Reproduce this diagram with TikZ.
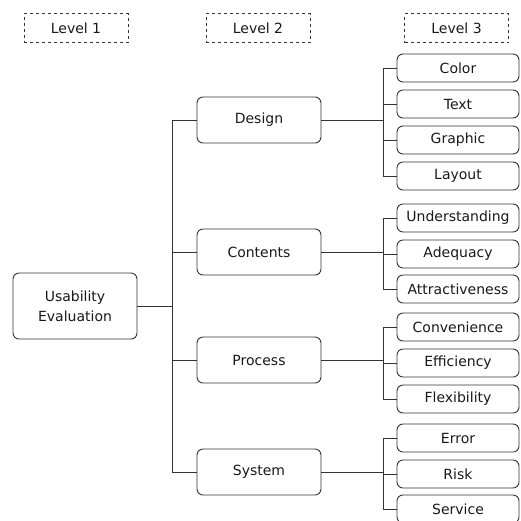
\documentclass[tikz,border=0pt]{standalone}
\usepackage{fontspec}
\setmainfont{DejaVu Sans}
\usetikzlibrary{positioning}

\begin{document}
\begin{tikzpicture}[
        x=1pt, y=-1pt,
        every node/.style={draw=black!80, line width=0.9pt, rounded corners=6pt, inner sep=0pt, align=center, text=black!90, font=\fontsize{14}{20}\selectfont},
        head/.style={rounded corners=0pt, dashed, line width=0.6pt, minimum width=104pt, minimum height=29pt},
        top/.style={minimum width=124pt, minimum height=66pt},
        mid/.style={minimum width=124pt, minimum height=46pt},
        leaf/.style={minimum width=122pt, minimum height=28pt},
        link/.style={draw=black!80, line width=0.8pt}
    ]
 \useasboundingbox (0,0) rectangle (521,520);
 \node[head] (h1) at (76,28)    {Level 1};
 \node[head] (h2) at (258,28)   {Level 2};
 \node[head] (h3) at (456.5,28) {Level 3};

 \node[top] (eval) at (75,306) {Usability\\Evaluation};

 \node[mid] (design)   at (259,120) {Design};
 \node[mid] (contents) at (259,252) {Contents};
 \node[mid] (process)  at (259,360) {Process};
 \node[mid] (system)   at (259,472) {System};

 \node[leaf] (color)   at (458,68)  {Color};
 \node[leaf] (text)    at (458,104) {Text};
 \node[leaf] (graphic) at (458,140) {Graphic};
 \node[leaf] (layout)  at (458,176) {Layout};

 \node[leaf] (underst) at (458,218) {Understanding};
 \node[leaf] (adequ)   at (458,254) {Adequacy};
 \node[leaf] (attract) at (458,289) {Attractiveness};

 \node[leaf] (conven)  at (458,327) {Convenience};
 \node[leaf] (effic)   at (458,363) {Efficiency};
 \node[leaf] (flexib)  at (458,399) {Flexibility};

 \node[leaf] (error)   at (458,438) {Error};
 \node[leaf] (risk)    at (458,474) {Risk};
 \node[leaf] (service) at (458,509) {Service};

 \path[link] (eval.east) -- +(35,0) |- (design.west)
             (eval.east) -- +(35,0) |- (contents.west)
             (eval.east) -- +(35,0) |- (process.west)
             (eval.east) -- +(35,0) |- (system.west);

 \path[link] (design.east) -- +(62,0) |- (color.west)
             (design.east) -- +(62,0) |- (text.west)
             (design.east) -- +(62,0) |- (graphic.west)
             (design.east) -- +(62,0) |- (layout.west);

 \path[link] (contents.east) -- +(62,0) |- (underst.west)
             (contents.east) -- +(62,0) |- (adequ.west)
             (contents.east) -- +(62,0) |- (attract.west);

 \path[link] (process.east) -- +(62,0) |- (conven.west)
             (process.east) -- +(62,0) |- (effic.west)
             (process.east) -- +(62,0) |- (flexib.west);

 \path[link] (system.east) -- +(62,0) |- (error.west)
             (system.east) -- +(62,0) |- (risk.west)
             (system.east) -- +(62,0) |- (service.west);
    \end{tikzpicture}
\end{document}
